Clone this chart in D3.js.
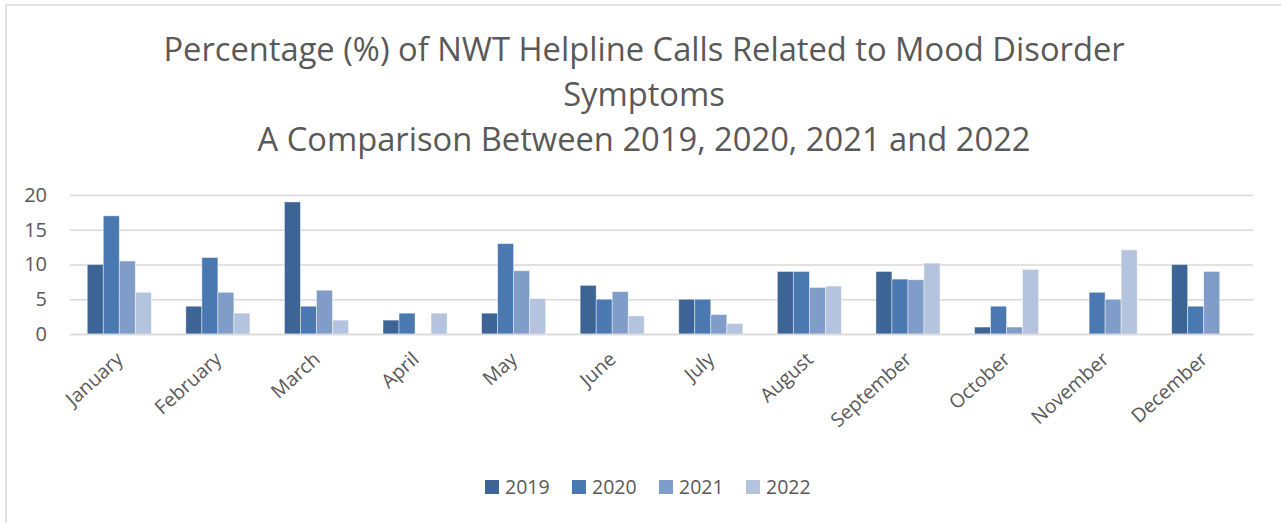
<!DOCTYPE html>
<html>
<head>
<meta charset="utf-8">
<script src="https://cdn.jsdelivr.net/npm/d3@7"></script>
<style>
  html, body { margin: 0; padding: 0; background: #fff; }
  svg { display: block; }
</style>
</head>
<body>
<svg id="chart" width="1281" height="523"></svg>
<script>
const months = ["January","February","March","April","May","June","July","August","September","October","November","December"];
const seriesNames = ["2019","2020","2021","2022"];
const v2019 = [10, 4, 19, 2, 3, 7, 5, 9, 9, 1, 0, 10];
const v2020 = [17, 11, 4, 3, 13, 5, 5, 9, 7.9, 4, 6, 4];
const v2021 = [10.5, 6, 6.3, 0, 9.1, 6.1, 2.8, 6.7, 7.8, 1, 5, 9];
const v2022 = [6, 3, 2, 3, 5.1, 2.6, 1.5, 6.9, 10.2, 9.3, 12.1, 0];
const yTicks = [0, 5, 10, 15, 20];
const titleLines = ["Percentage (%) of NWT Helpline Calls Related to Mood Disorder", "Symptoms", "A Comparison Between 2019, 2020, 2021 and 2022"];
const colors = ["#3c6495", "#4a79b1", "#7f9dc8", "#b4c3de"];

const values = [v2019, v2020, v2021, v2022];
const data = months.map((m, i) => ({ month: m, vals: seriesNames.map((s, k) => ({ key: s, value: values[k][i] })) }));

const svg = d3.select("#chart");
const font = "'Open Sans', sans-serif";
const textColor = "#595959";

// outer border
svg.append("rect").attr("x", 6).attr("y", 5).attr("width", 1290).attr("height", 530)
  .attr("fill", "#fff").attr("stroke", "#d9d9d9").attr("stroke-width", 1.5);

const x0 = d3.scaleBand().domain(months).range([70, 1253]).paddingInner(0.35).paddingOuter(0.175);
const x1 = d3.scaleBand().domain(seriesNames).range([0, x0.bandwidth()]);
const y = d3.scaleLinear().domain([0, 20]).range([334, 195]);
const color = d3.scaleOrdinal().domain(seriesNames).range(colors);

// title
const title = svg.append("text").attr("text-anchor", "middle").attr("fill", textColor)
  .style("font-family", font).style("font-size", "32.7px");
titleLines.forEach((t, i) => {
  title.append("tspan").attr("x", 644).attr("y", 61 + i * 45).text(t);
});

// gridlines
const yAxis = d3.axisLeft(y).tickValues(yTicks).tickSize(-(1253 - 70)).tickPadding(23);
const gy = svg.append("g").attr("transform", "translate(70,0)").call(yAxis);
gy.select(".domain").remove();
gy.selectAll(".tick line").attr("stroke", "#d9d9d9").attr("stroke-width", 1.5);
gy.selectAll(".tick text").attr("fill", textColor).style("font-family", font).style("font-size", "20px");

// bars
const groups = svg.append("g").selectAll("g").data(data).join("g")
  .attr("transform", d => `translate(${x0(d.month)},0)`);
groups.selectAll("rect").data(d => d.vals.filter(v => v.value > 0)).join("rect")
  .attr("x", d => x1(d.key))
  .attr("y", d => y(d.value))
  .attr("width", x1.bandwidth())
  .attr("height", d => y(0) - y(d.value))
  .attr("fill", d => color(d.key))
  .attr("stroke", "rgba(255,255,255,0.55)")
  .attr("stroke-width", 0.8);

// x axis baseline
const xAxis = d3.axisBottom(x0).tickSize(0).tickPadding(0);
const gx = svg.append("g").attr("transform", "translate(0,334)").call(xAxis);
gx.select(".domain").attr("stroke", "#d9d9d9").attr("stroke-width", 1.5);
gx.selectAll(".tick text")
  .attr("fill", textColor).style("font-family", font).style("font-size", "19.5px")
  .attr("text-anchor", "end")
  .attr("transform", "translate(5,27) rotate(-42)")
  .attr("dy", 0).attr("y", 0);

// legend
const legend = svg.append("g").selectAll("g").data(seriesNames).join("g")
  .attr("transform", (d, i) => `translate(${485 + i * 87},480)`);
legend.append("rect").attr("width", 14).attr("height", 14).attr("fill", d => color(d));
legend.append("text").attr("x", 20).attr("y", 14).text(d => d)
  .attr("fill", textColor).style("font-family", font).style("font-size", "19.5px");
</script>
</body>
</html>
